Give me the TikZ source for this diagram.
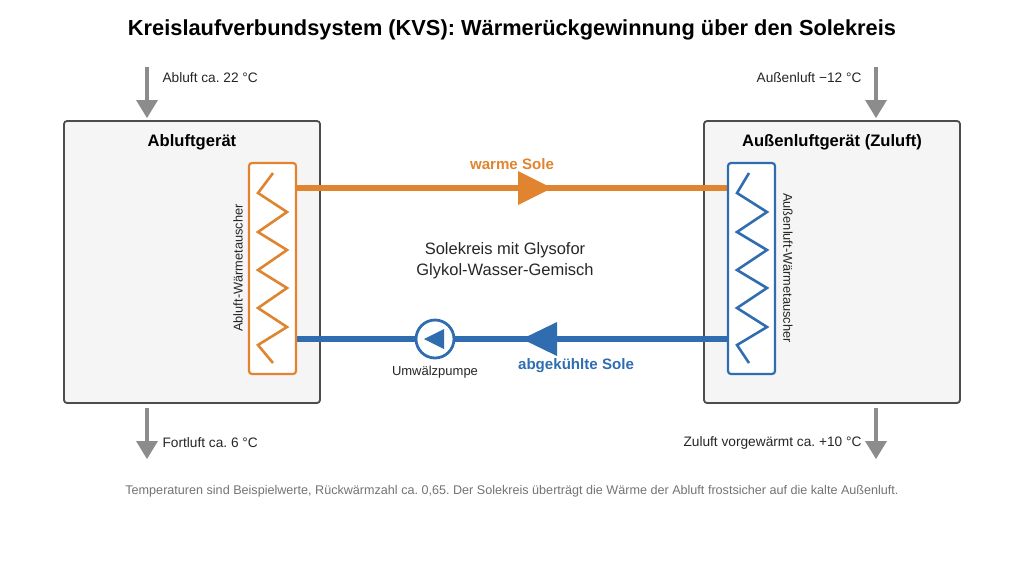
\documentclass[tikz,border=0pt]{standalone}
\usepackage{fontspec}
\setmainfont{Liberation Sans}
\frenchspacing
\begin{document}
\begin{tikzpicture}[x=1pt,y=-1pt,
  box/.style={draw=black!70,fill=black!4,line width=1.8pt,rounded corners=3pt},
  hx/.style={draw=#1,fill=white,line width=2.2pt,rounded corners=3pt},
  zig/.style={draw=#1,line width=2.6pt},
  pipe/.style={draw=#1,line width=5.5pt},
  air/.style={draw=black!45,line width=3.5pt},
  airhead/.style={fill=black!45},
  lbl/.style={font=\fontsize{13.7}{16}\selectfont,text=black!85}]
\definecolor{org}{HTML}{E0842F}
\definecolor{blu}{HTML}{2F6DB0}
\useasboundingbox (0,0) rectangle (1024,563);
\node[font=\bfseries\fontsize{21.8}{26}\selectfont] (title) at (512,30) {Kreislaufverbundsystem (KVS): Wärmerückgewinnung über den Solekreis};
% boxes
\draw[box] (64,121) rectangle (320,403);
\draw[box] (704,121) rectangle (960,403);
\node[font=\bfseries\fontsize{16.6}{19}\selectfont] (t1) at (192,142) {Abluftgerät};
\node[font=\bfseries\fontsize{16.6}{19}\selectfont] (t2) at (832,142) {Außenluftgerät (Zuluft)};
% pipes
\draw[pipe=org] (296,188) -- (728,188);
\fill[org] (518,171) -- (552,188) -- (518,205) -- cycle;
\node[font=\bfseries\fontsize{15.1}{18}\selectfont,text=org] (ws) at (512,164) {warme Sole};
\draw[pipe=blu] (296,339) -- (728,339);
\fill[blu] (557,322) -- (522,339) -- (557,356) -- cycle;
\node[font=\bfseries\fontsize{15.1}{18}\selectfont,text=blu] (as) at (576,366) {abgekühlte Sole};
\node[draw=blu,fill=white,line width=2.8pt,circle,minimum size=38pt,inner sep=0] (pump) at (435,339) {};
\fill[blu] (444,329) -- (424,339) -- (444,349) -- cycle;
\node[font=\fontsize{13}{15}\selectfont,text=black!85] (pl) at (435,372) {Umwälzpumpe};
\node[font=\fontsize{16.5}{19}\selectfont,text=black!85] (mid1) at (505,250) {Solekreis mit Glysofor};
\node[font=\fontsize{16.5}{19}\selectfont,text=black!85] (mid2) at (505,271) {Glykol-Wasser-Gemisch};
% HX
\draw[hx=org] (249,163) rectangle (296,374);
\draw[zig=org] (273,173) -- (258,193) -- (287,212) -- (258,232) -- (287,250) -- (258,270) -- (287,288) -- (258,308) -- (287,327) -- (258,345) -- (273,363);
\node[rotate=90,font=\fontsize{12.8}{15}\selectfont,text=black!85] (h1) at (238,268) {Abluft-Wärmetauscher};
\draw[hx=blu] (728,163) rectangle (775,374);
\draw[zig=blu] (749,173) -- (737,193) -- (767,212) -- (737,232) -- (767,250) -- (737,270) -- (767,288) -- (737,308) -- (767,327) -- (737,345) -- (749,363);
\node[rotate=-90,font=\fontsize{12.8}{15}\selectfont,text=black!85] (h2) at (788,268) {Außenluft-Wärmetauscher};
% air arrows
\coordinate (a1s) at (147,67); \coordinate (a1e) at (147,103);
\draw[air] (a1s) -- (a1e); \fill[airhead] (136,100) -- (158,100) -- (147,118) -- cycle;
\coordinate (a2s) at (876,67); \coordinate (a2e) at (876,103);
\draw[air] (a2s) -- (a2e); \fill[airhead] (865,100) -- (887,100) -- (876,118) -- cycle;
\coordinate (a3s) at (147,408); \coordinate (a3e) at (147,444);
\draw[air] (a3s) -- (a3e); \fill[airhead] (136,441) -- (158,441) -- (147,459) -- cycle;
\coordinate (a4s) at (876,408); \coordinate (a4e) at (876,444);
\draw[air] (a4s) -- (a4e); \fill[airhead] (865,441) -- (887,441) -- (876,459) -- cycle;
\node[lbl,anchor=west] (l1) at (159,78) {Abluft ca. 22 °C};
\node[lbl,anchor=east] (l2) at (865,78) {Außenluft −12 °C};
\node[lbl,anchor=west] (l3) at (159,443) {Fortluft ca. 6 °C};
\node[lbl,anchor=east] (l4) at (865,443) {Zuluft vorgewärmt ca. +10 °C};
\node[font=\fontsize{12.6}{15}\selectfont,text=black!55] (foot) at (512,491) {Temperaturen sind Beispielwerte, Rückwärmzahl ca. 0,65. Der Solekreis überträgt die Wärme der Abluft frostsicher auf die kalte Außenluft.};
\end{tikzpicture}
\end{document}
